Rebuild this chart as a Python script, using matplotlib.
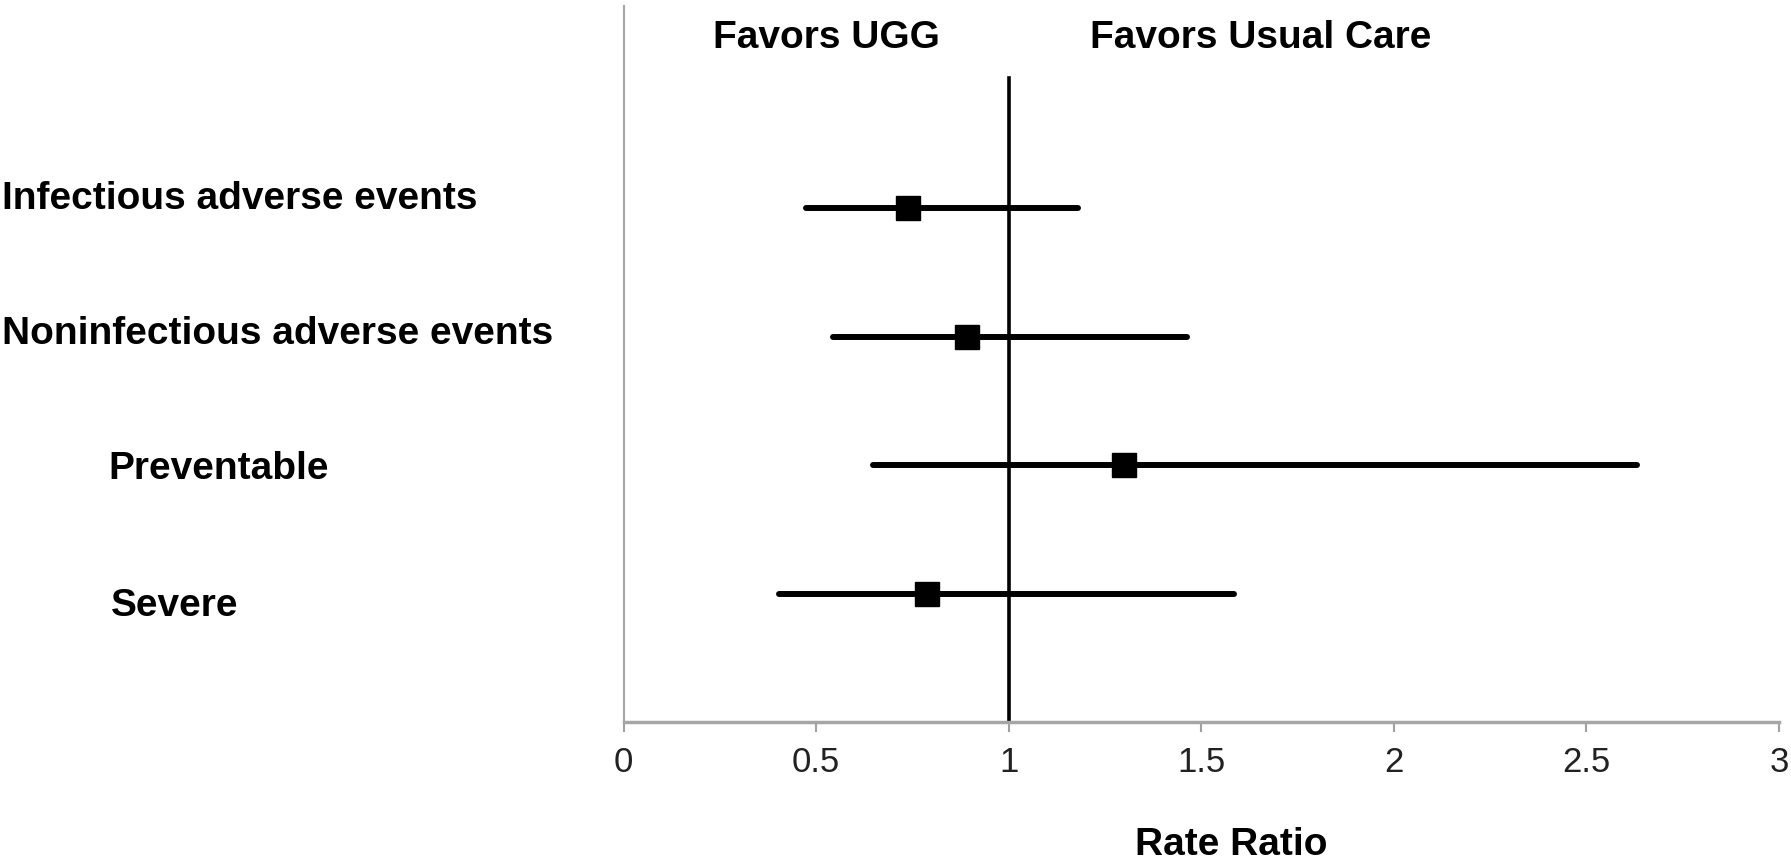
import matplotlib.pyplot as plt

# forest plot data (rate ratio with 95% CI)
categories = ["Infectious adverse events", "Noninfectious adverse events", "Preventable", "Severe"]
rate_ratio = [0.738, 0.891, 1.299, 0.789]
ci_low = [0.474, 0.545, 0.648, 0.404]
ci_high = [1.181, 1.463, 2.631, 1.584]
x_ticks = [0, 0.5, 1, 1.5, 2, 2.5, 3]
x_tick_labels = ["0", "0.5", "1", "1.5", "2", "2.5", "3"]

plt.rcParams['font.family'] = ['Liberation Sans', 'DejaVu Sans']

W, H = 1791, 864
fig = plt.figure(figsize=(W / 100, H / 100), dpi=100)
ax = fig.add_axes([623.5 / W, 1 - 722 / H, (1779 - 623.5) / W, (722 - 6) / H])

ypos = [4, 3, 2, 1]
for y, lo, hi, rr in zip(ypos, ci_low, ci_high, rate_ratio):
    ax.plot([lo, hi], [y, y], color='black', linewidth=4.3, solid_capstyle='round', zorder=2)
    ax.plot(rr, y, marker='s', markersize=17, color='black', linestyle='', zorder=3)

# reference line at 1
ax.plot([1, 1], [0, 5.015], color='black', linewidth=2.6, zorder=1)

ax.set_xlim(0, 3)
ax.set_ylim(0, 5.572)
ax.set_xticks(x_ticks)
ax.set_xticklabels(x_tick_labels, fontsize=25, color='#222222')
ax.set_yticks([])
ax.tick_params(axis='x', length=7, width=1.5, color='#a0a0a0', pad=10)

for s in ['top', 'right']:
    ax.spines[s].set_visible(False)
ax.spines['left'].set_color('#a6a6a6')
ax.spines['left'].set_linewidth(1.5)
ax.spines['bottom'].set_color('#a6a6a6')
ax.spines['bottom'].set_linewidth(2.5)

ax.set_xlabel("Rate Ratio", fontsize=28, fontweight='bold')
ax.xaxis.set_label_coords((1231 - 623.5) / (1779 - 623.5), -(845 - 722) / (722 - 6))
ax.xaxis.label.set_va('center')

# category labels placed like the original (pixel positions)
label_pos = [(2, 199), (2, 334), (108, 469), (111, 606)]
for txt, (px, py) in zip(categories, label_pos):
    fig.text(px / W, 1 - py / H, txt, fontsize=28, fontweight='bold', va='center', ha='left')

fig.text(826 / W, 1 - 38 / H, "Favors UGG", fontsize=28, fontweight='bold', va='center', ha='center')
fig.text(1261 / W, 1 - 38 / H, "Favors Usual Care", fontsize=28, fontweight='bold', va='center', ha='center')

fig.savefig("out.png", dpi=100)
